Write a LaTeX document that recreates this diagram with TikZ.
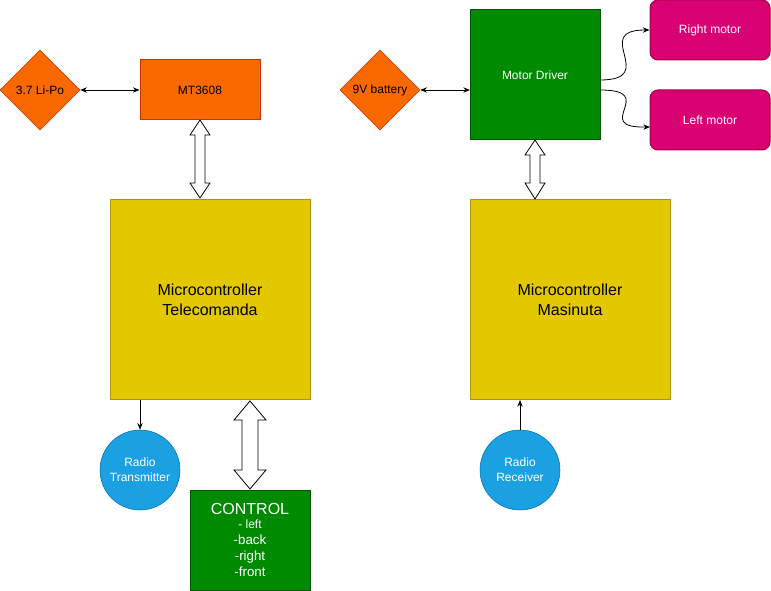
\documentclass[tikz,border=0pt]{standalone}
\usepackage{fontspec}
\setmainfont{Liberation Sans}
\usetikzlibrary{shapes.geometric,arrows.meta}
\definecolor{org}{HTML}{FA6800}\definecolor{orgd}{HTML}{C73500}
\definecolor{yel}{HTML}{E3C800}\definecolor{yeld}{HTML}{B09500}
\definecolor{grn}{HTML}{008A00}\definecolor{grnd}{HTML}{005700}
\definecolor{blu}{HTML}{1BA1E2}\definecolor{blud}{HTML}{006EAF}
\definecolor{mag}{HTML}{D80073}\definecolor{magd}{HTML}{A50040}
\tikzset{
 sm/.style={font=\fontsize{9}{11}\selectfont},
 big/.style={font=\fontsize{12}{15}\selectfont},
 box/.style={draw, line width=0.75pt, inner sep=0pt, align=center},
 ob/.style={box, fill=org, draw=orgd, sm},
 yb/.style={box, fill=yel, draw=yeld, big},
 gb/.style={box, fill=grn, draw=grnd, text=white},
 mb/.style={box, fill=mag, draw=magd, text=white, sm, rounded corners=6pt, minimum width=90pt, minimum height=45pt},
 cb/.style={circle, draw=blud, fill=blu, text=white, sm, minimum size=60pt, inner sep=0pt, align=center},
 dm/.style={diamond, draw=orgd, fill=org, sm, minimum width=60pt, minimum height=60pt, inner sep=0pt, aspect=1},
 ar/.style={-{Stealth[length=5pt,width=4pt]}, line width=0.6pt},
 dar/.style={{Stealth[length=5pt,width=4pt]}-{Stealth[length=5pt,width=4pt]}, line width=0.6pt},
 hol/.style={draw, fill=white, line width=0.6pt},
}
\begin{document}
\begin{tikzpicture}[x=0.75pt,y=-0.75pt]
\useasboundingbox (0,0) rectangle (771,591);
\node[dm] (lipo) at (40,90) {3.7 Li-Po};
\node[ob, minimum width=90pt, minimum height=45pt] (mt) at (200,90) {MT3608};
\node[yb, minimum width=150pt, minimum height=150pt] (mct) at (210,300) {Microcontroller\\Telecomanda};
\node[cb] (rt) at (140,470) {Radio\\Transmitter};
\node[gb, minimum width=90pt, minimum height=75pt] (ctl) at (250,540) {\fontsize{12}{13}\selectfont CONTROL\\[-2pt]\fontsize{9}{10}\selectfont - left\\-back\\-right\\-front};
\node[dm] (bat) at (380,90) {9V battery};
\node[gb, sm, minimum width=97.5pt, minimum height=97.5pt] (md) at (535,75) {Motor Driver};
\node[mb] (rm) at (710,30) {Right motor};
\node[mb] (lm) at (710,120) {Left motor};
\node[yb, minimum width=150pt, minimum height=150pt] (mcm) at (570,300) {Microcontroller\\Masinuta};
\node[cb] (rr) at (520,470) {Radio\\Receiver};
\coordinate (mdw) at (470,90);
\draw[dar] (lipo.east) -- (mt.west);
\draw[dar] (bat.east) -- (mdw);
\draw[ar] (140,400) -- (rt.north);
\draw[ar] (rr.north) -- (520,400);
\coordinate (d1) at (600,80); \coordinate (d2) at (600,90);
\draw[ar] (d1) .. controls (660,80) and (590,30) .. (rm.west);
\draw[ar] (d2) .. controls (660,90) and (590,128) .. (650,127);
% hollow double arrows
\draw[hol] (200,120) -- (210,135) -- (205,135) -- (205,183) -- (210,183) -- (200,198) -- (190,183) -- (195,183) -- (195,135) -- (190,135) -- cycle;
\draw[hol] (535,140) -- (545,155) -- (540,155) -- (540,183) -- (545,183) -- (535,199) -- (525,183) -- (530,183) -- (530,155) -- (525,155) -- cycle;
\draw[hol] (250,401) -- (266,420) -- (258,420) -- (258,470) -- (266,470) -- (250,489) -- (234,470) -- (242,470) -- (242,420) -- (234,420) -- cycle;
\end{tikzpicture}
\end{document}
